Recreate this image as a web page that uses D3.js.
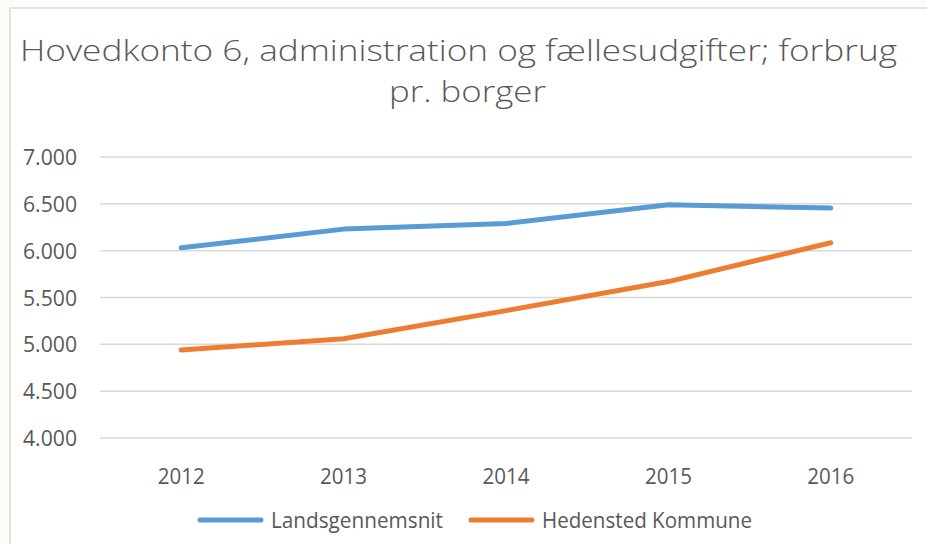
<!DOCTYPE html>
<html>
<head>
<meta charset="utf-8">
<script src="https://cdn.jsdelivr.net/npm/d3@7"></script>
<style>
  html, body { margin: 0; padding: 0; background: #fdfcf9; }
  svg { display: block; }
  text { font-family: "Open Sans", "Noto Sans", sans-serif; fill: #595959; font-variant-ligatures: none; }
</style>
</head>
<body>
<div id="chart"></div>
<script>
const years = ['2012', '2013', '2014', '2015', '2016'];
const landsgennemsnit = [6030, 6230, 6290, 6490, 6455];
const hedensted = [4940, 5060, 5360, 5670, 6085];
const yTicks = [4000, 4500, 5000, 5500, 6000, 6500, 7000];
const seriesNames = ['Landsgennemsnit', 'Hedensted Kommune'];
const seriesColors = ['#5b9bd5', '#ed7d31'];
const titleLines = ['Hovedkonto 6, administration og fællesudgifter; forbrug', 'pr. borger'];

const width = 927;
const height = 544;
const plot = {left: 100, right: 912, top: 157, bottom: 438};

const svg = d3.select('#chart')
  .append('svg')
  .attr('width', width)
  .attr('height', height);

// chart frame (runs off the right and bottom edges)
svg.append('rect')
  .attr('x', 10)
  .attr('y', 8)
  .attr('width', 940)
  .attr('height', 560)
  .attr('fill', '#ffffff')
  .attr('stroke', '#d9d9d9')
  .attr('stroke-width', 1.5);

// squeeze a text element horizontally to a target width
function fitWidth(sel, w) {
  sel.attr('textLength', w).attr('lengthAdjust', 'spacingAndGlyphs');
}

// title, two lines
const titleX = [20, 389], titleY = [61, 102], titleW = [877, 157];
titleLines.forEach((s, i) => {
  const ts = svg.append('text')
    .attr('x', titleX[i]).attr('y', titleY[i])
    .style('font-weight', 300)
    .style('font-size', '30px')
    .text(s);
  fitWidth(ts, titleW[i]);
});

const x = d3.scalePoint()
  .domain(years)
  .range([plot.left, plot.right])
  .padding(0.5);

const y = d3.scaleLinear()
  .domain([4000, 7000])
  .range([plot.bottom, plot.top]);

const fmt = v => d3.format(',')(v).replace(/,/g, '.');

// gridlines
svg.append('g')
  .selectAll('line')
  .data(yTicks).enter()
  .append('line')
  .attr('x1', plot.left)
  .attr('x2', plot.right)
  .attr('y1', d => y(d))
  .attr('y2', d => y(d))
  .attr('stroke', '#d9d9d9')
  .attr('stroke-width', 1.5);

// y labels
svg.append('g')
  .selectAll('text')
  .data(yTicks).enter()
  .append('text')
  .attr('x', 77)
  .attr('y', d => y(d) + 8)
  .attr('text-anchor', 'end')
  .style('font-size', '21px')
  .text(d => fmt(d))
  .each(function() { fitWidth(d3.select(this), 54); });

// x labels
svg.append('g')
  .selectAll('text')
  .data(years).enter()
  .append('text')
  .attr('x', d => x(d))
  .attr('y', 484)
  .attr('text-anchor', 'middle')
  .style('font-size', '21px')
  .text(d => d)
  .each(function() { fitWidth(d3.select(this), 47); });

const line = d3.line()
  .x(d => x(d.year))
  .y(d => y(d.value));

[landsgennemsnit, hedensted].forEach((vals, i) => {
  svg.append('path')
    .datum(years.map((yr, j) => ({year: yr, value: vals[j]})))
    .attr('d', line)
    .attr('fill', 'none')
    .attr('stroke', seriesColors[i])
    .attr('stroke-width', 5)
    .attr('stroke-linecap', 'round')
    .attr('stroke-linejoin', 'round');
});

// legend
const legendX = [200, 471];
const legendTextW = [172, 210];
seriesNames.forEach((name, i) => {
  const g = svg.append('g').attr('transform', `translate(${legendX[i]},520)`);
  g.append('line')
    .attr('x1', 0).attr('x2', 61)
    .attr('stroke', seriesColors[i])
    .attr('stroke-width', 5)
    .attr('stroke-linecap', 'round');
  const txt = g.append('text')
    .attr('x', 71)
    .attr('y', 8)
    .style('font-size', '21px')
    .text(name);
  fitWidth(txt, legendTextW[i]);
});
</script>
</body>
</html>
